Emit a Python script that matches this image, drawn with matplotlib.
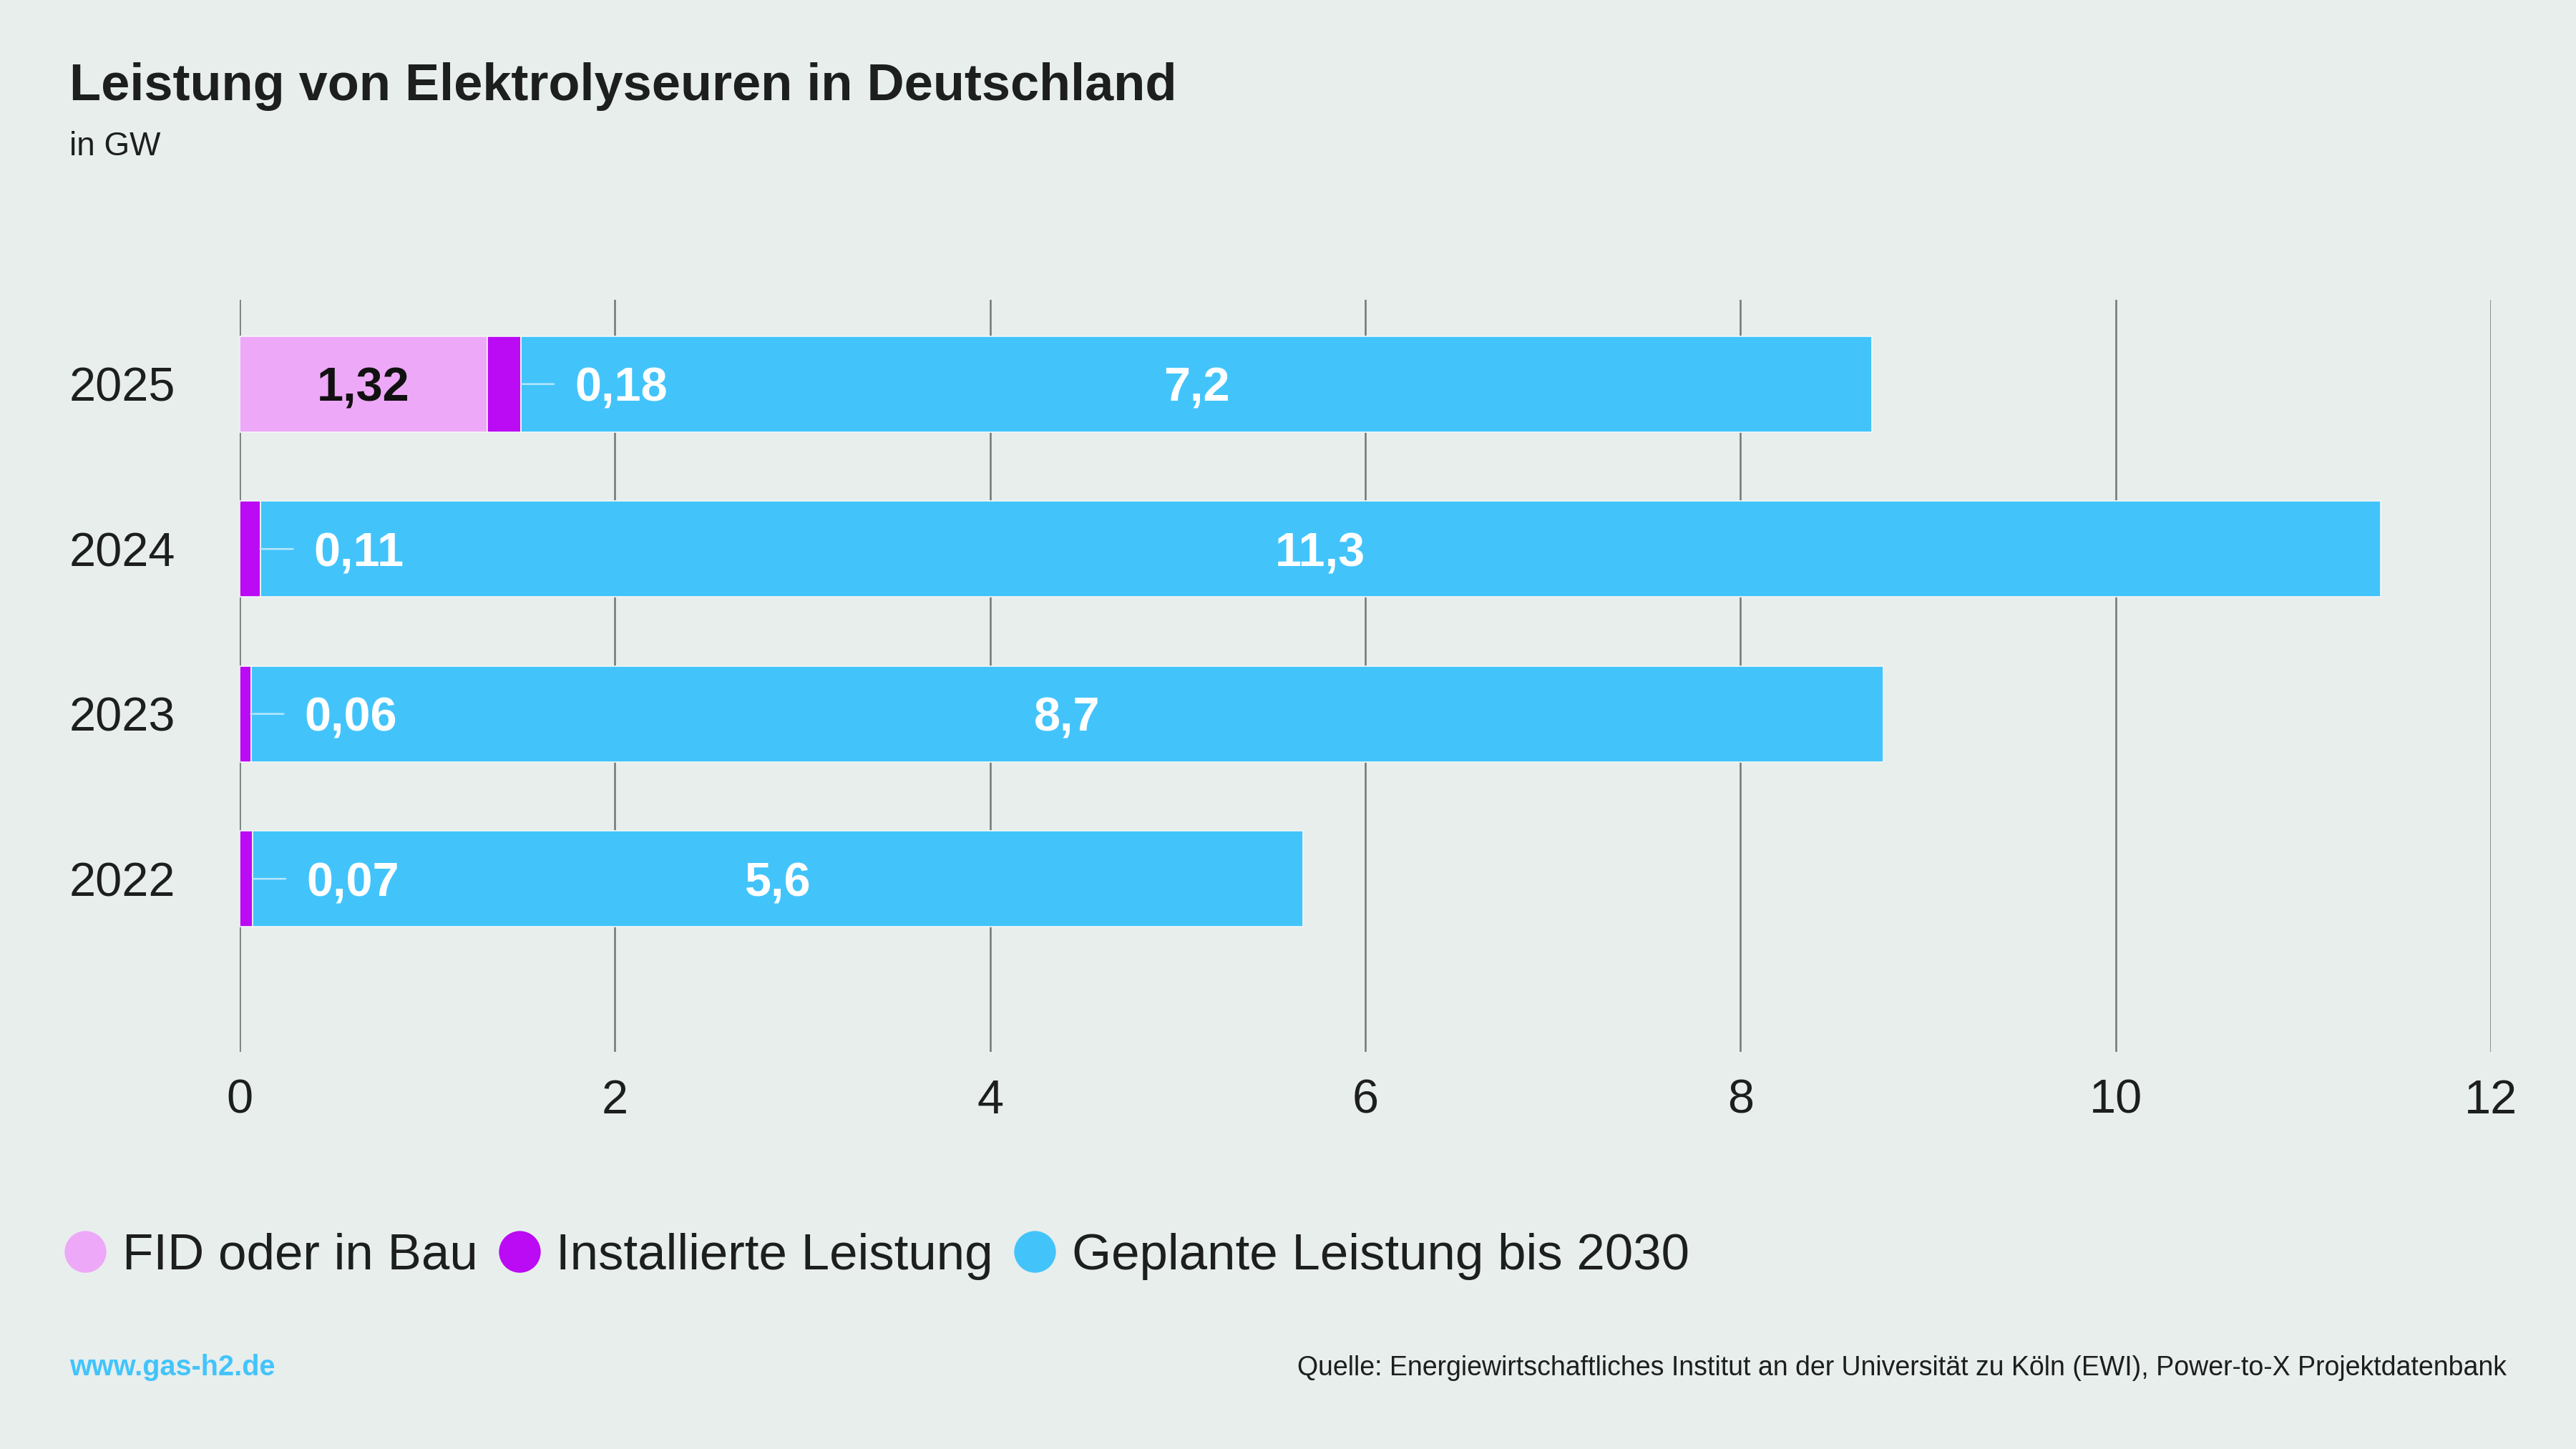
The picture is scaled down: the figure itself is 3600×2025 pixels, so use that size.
import matplotlib.pyplot as plt
from matplotlib.lines import Line2D

# data (GW), bottom to top
years = ["2022", "2023", "2024", "2025"]
fid_in_bau = [0.0, 0.0, 0.0, 1.32]
installiert = [0.07, 0.06, 0.11, 0.18]
geplant = [5.6, 8.7, 11.3, 7.2]

fid_labels = ["", "", "", "1,32"]
inst_labels = ["0,07", "0,06", "0,11", "0,18"]
plan_labels = ["5,6", "8,7", "11,3", "7,2"]

x_ticks = [0, 2, 4, 6, 8, 10, 12]
legend_names = ["FID oder in Bau", "Installierte Leistung", "Geplante Leistung bis 2030"]

bg = "#e8eeec"
c_fid = "#eea8f8"
c_inst = "#bb0af4"
c_plan = "#42c4fb"
c_text = "#1c1f1e"

plt.rcParams["font.family"] = ["Liberation Sans", "DejaVu Sans"]

fig = plt.figure(figsize=(12, 6.75), dpi=300, facecolor=bg)
ax = fig.add_axes([0.093, 0.274, 0.874, 0.519])
ax.set_facecolor(bg)

ypos = list(range(len(years)))
h = 0.58
edge = dict(edgecolor="#f4f7f6", linewidth=0.4)

left_inst = [f for f in fid_in_bau]
left_plan = [f + i for f, i in zip(fid_in_bau, installiert)]

ax.barh(ypos, fid_in_bau, height=h, color=c_fid, zorder=3, **edge)
ax.barh(ypos, installiert, left=left_inst, height=h, color=c_inst, zorder=3, **edge)
ax.barh(ypos, geplant, left=left_plan, height=h, color=c_plan, zorder=3, **edge)

for y in ypos:
    # FID label
    if fid_in_bau[y] > 0:
        ax.text(fid_in_bau[y] / 2, y, fid_labels[y], ha="center", va="center_baseline",
                fontsize=16, fontweight="bold", color="#111111", zorder=5)
    # short connector line from the purple segment to its label
    ax.annotate("", xy=(left_plan[y], y), xytext=(11, 0), textcoords="offset points",
                arrowprops=dict(arrowstyle="-", color="#b8e6fb", lw=0.6,
                                shrinkA=0, shrinkB=0), zorder=4)
    ax.annotate(inst_labels[y], xy=(left_plan[y], y), xytext=(18, 0),
                textcoords="offset points", ha="left", va="center_baseline",
                fontsize=16, fontweight="bold", color="white", zorder=5)
    # planned label, centred in the blue segment
    ax.text(left_plan[y] + geplant[y] / 2, y, plan_labels[y], ha="center",
            va="center_baseline", fontsize=16, fontweight="bold", color="white", zorder=5)

ax.set_xlim(0, 12)
ax.set_ylim(-1.05, 3.51)
ax.set_xticks(x_ticks)
ax.set_xticklabels([str(t) for t in x_ticks])
ax.set_yticks(ypos)
ax.set_yticklabels(years)
ax.tick_params(axis="x", length=0, pad=9, labelsize=16, labelcolor=c_text)
ax.tick_params(axis="y", length=0, pad=21.5, labelsize=16, labelcolor=c_text)
ax.grid(axis="x", color="#6f7776", linewidth=0.6, zorder=1)
for s in ax.spines.values():
    s.set_visible(False)

# title + subtitle
fig.text(0.027, 0.931, "Leistung von Elektrolyseuren in Deutschland",
         fontsize=17.3, fontweight="bold", color=c_text, va="baseline")
fig.text(0.027, 0.893, "in GW", fontsize=11, color=c_text, va="baseline")

# legend
handles = [Line2D([], [], marker="o", linestyle="", markersize=13,
                  markerfacecolor=c, markeredgecolor=c)
           for c in (c_fid, c_inst, c_plan)]
fig.legend(handles, legend_names, loc="center left", bbox_to_anchor=(0.014, 0.133),
           ncol=3, frameon=False, fontsize=17, handletextpad=0.15,
           columnspacing=0.25, borderaxespad=0, handlelength=1.15,
           labelcolor=c_text)

# footer
fig.text(0.027, 0.051, "www.gas-h2.de", fontsize=9.5, fontweight="bold",
         color=c_plan, va="baseline")
fig.text(0.973, 0.051,
         "Quelle: Energiewirtschaftliches Institut an der Universität zu Köln (EWI), Power-to-X Projektdatenbank",
         fontsize=9.0, color=c_text, ha="right", va="baseline")

fig.savefig("out.png", dpi=300, facecolor=bg)
